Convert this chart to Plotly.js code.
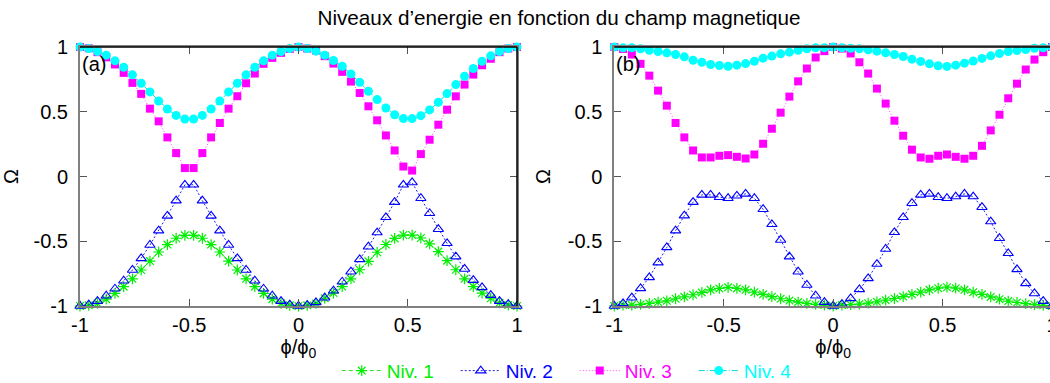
<!DOCTYPE html>
<html>
<head>
<meta charset="utf-8">
<script src="https://cdn.plot.ly/plotly-3.0.1.min.js"></script>
<style>
html,body{margin:0;padding:0;overflow:hidden;background:#fff;}
#chart{width:1060px;height:383px;}
</style>
</head>
<body>
<div id="chart"></div>
<script>
// phi / phi0 sample positions
const phi = [-1.00,-0.96,-0.92,-0.88,-0.84,-0.80,-0.76,-0.72,-0.68,-0.64,-0.60,-0.56,-0.52,-0.48,-0.44,-0.40,-0.36,-0.32,-0.28,-0.24,-0.20,-0.16,-0.12,-0.08,-0.04,0.00,
             0.04,0.08,0.12,0.16,0.20,0.24,0.28,0.32,0.36,0.40,0.44,0.48,0.52,0.56,0.60,0.64,0.68,0.72,0.76,0.80,0.84,0.88,0.92,0.96,1.00];

// Panel (a)
const a_niv1 = [-1.0,-0.995,-0.98,-0.947,-0.903,-0.851,-0.79,-0.722,-0.653,-0.583,-0.526,-0.477,-0.454,
                -0.454,-0.477,-0.526,-0.583,-0.653,-0.722,-0.79,-0.851,-0.903,-0.947,-0.98,-0.995,-1.0,
                -0.995,-0.98,-0.94,-0.9,-0.85,-0.79,-0.72,-0.655,-0.585,-0.525,-0.478,-0.452,-0.452,-0.475,-0.52,-0.58,-0.65,-0.72,-0.79,-0.85,-0.9,-0.94,-0.975,-0.993,-1.0];
const a_niv2 = [-1.0,-0.99,-0.962,-0.921,-0.867,-0.805,-0.722,-0.632,-0.529,-0.418,-0.304,-0.186,-0.064,
                -0.064,-0.186,-0.304,-0.418,-0.529,-0.632,-0.722,-0.805,-0.867,-0.921,-0.962,-0.99,-1.0,
                -0.993,-0.972,-0.936,-0.882,-0.813,-0.735,-0.64,-0.542,-0.433,-0.315,-0.198,-0.064,-0.046,-0.168,-0.284,-0.407,-0.516,-0.619,-0.714,-0.8,-0.856,-0.916,-0.962,-0.985,-1.0];
const a_niv3 = [1.0,0.99,0.96,0.92,0.865,0.80,0.723,0.638,0.524,0.426,0.302,0.181,0.065,
                0.065,0.181,0.302,0.413,0.524,0.62,0.72,0.795,0.87,0.916,0.955,0.985,1.0,
                0.988,0.973,0.929,0.872,0.808,0.733,0.645,0.542,0.434,0.317,0.201,0.077,0.046,0.173,0.284,0.4,0.516,0.619,0.71,0.787,0.859,0.909,0.96,0.988,1.0];
const a_niv4 = [1.0,0.988,0.965,0.937,0.893,0.844,0.785,0.72,0.653,0.583,0.521,0.472,0.444,
                0.444,0.472,0.521,0.583,0.653,0.72,0.785,0.844,0.893,0.937,0.965,0.988,1.0,
                0.988,0.968,0.937,0.896,0.851,0.792,0.728,0.658,0.594,0.529,0.477,0.447,0.447,0.47,0.514,0.573,0.64,0.71,0.774,0.834,0.89,0.932,0.965,0.988,1.0];

// Panel (b)
const b_niv1 = [-1.0,-0.993,-0.993,-0.988,-0.98,-0.97,-0.96,-0.944,-0.929,-0.913,-0.895,-0.875,-0.864,-0.856,-0.864,-0.875,-0.893,-0.91,-0.928,-0.944,-0.958,-0.97,-0.98,-0.988,-0.993,-1.0,
                -0.993,-0.99,-0.985,-0.978,-0.968,-0.955,-0.942,-0.927,-0.91,-0.893,-0.875,-0.862,-0.855,-0.862,-0.875,-0.893,-0.91,-0.93,-0.947,-0.962,-0.973,-0.982,-0.99,-0.995,-1.0];
const b_niv2 = [-1.0,-0.98,-0.936,-0.864,-0.779,-0.665,-0.547,-0.418,-0.302,-0.198,-0.142,-0.142,-0.16,-0.168,-0.149,-0.134,-0.168,-0.253,-0.369,-0.49,-0.619,-0.735,-0.838,-0.921,-0.97,-1.0,
                -0.985,-0.941,-0.872,-0.787,-0.676,-0.56,-0.431,-0.315,-0.206,-0.142,-0.134,-0.16,-0.168,-0.155,-0.134,-0.155,-0.237,-0.348,-0.477,-0.593,-0.717,-0.825,-0.903,-0.962,-1.0];
const b_niv3 = [1.0,0.985,0.942,0.87,0.779,0.663,0.547,0.413,0.302,0.201,0.147,0.147,0.16,0.165,0.152,0.139,0.17,0.253,0.369,0.493,0.617,0.735,0.834,0.919,0.968,1.0,
                0.988,0.95,0.882,0.795,0.679,0.563,0.431,0.315,0.207,0.147,0.137,0.16,0.17,0.152,0.137,0.16,0.237,0.356,0.477,0.604,0.717,0.826,0.903,0.96,1.0];
const b_niv4 = [1.0,0.994,0.994,0.986,0.975,0.965,0.955,0.942,0.924,0.898,0.882,0.865,0.857,0.851,0.86,0.872,0.89,0.914,0.93,0.947,0.96,0.975,0.986,0.994,0.994,1.0,
                0.994,0.99,0.986,0.978,0.968,0.955,0.942,0.927,0.906,0.888,0.87,0.855,0.85,0.86,0.875,0.891,0.912,0.932,0.95,0.965,0.973,0.98,0.99,0.994,1.0];

const seriesNames = ['Niv. 1','Niv. 2','Niv. 3','Niv. 4'];
const xTickVals = [-1,-0.5,0,0.5,1];
const xTickText = ['-1','-0.5','0','0.5','1'];
const yTickVals = [-1,-0.5,0,0.5,1];
const yTickText = ['-1','-0.5','0','0.5','1'];
const panelLabels = ['(a)','(b)'];

const styles = [
  {color:'#00ee00', line:'#22dd22', dash:'4px,3px', marker:{symbol:'asterisk-open', size:9, line:{color:'#00ee00', width:1.2}}},
  {color:'#0000ff', line:'#2222ee', dash:'2px,2px', marker:{symbol:'triangle-up-open', size:9, line:{color:'#0000ff', width:1.1}}},
  {color:'#ff00ff', line:'#ff44ff', dash:'1px,2px', marker:{symbol:'square', size:8, color:'#ff00ff', line:{width:0}}},
  {color:'#00ffff', line:'#00dddd', dash:'6px,2px,1px,2px', marker:{symbol:'circle', size:9, color:'#00ffff', line:{width:0}}}
];

const panels = [
  {xa:'x', ya:'y', data:[a_niv1,a_niv2,a_niv3,a_niv4]},
  {xa:'x2', ya:'y2', data:[b_niv1,b_niv2,b_niv3,b_niv4]}
];

const traces = [];
panels.forEach((p, pi) => {
  p.data.forEach((vals, si) => {
    const st = styles[si];
    const mk = Object.assign({}, st.marker);
    if (!mk.color) mk.color = st.color;
    traces.push({
      type:'scatter', mode:'lines+markers',
      x: phi, y: vals, xaxis:p.xa, yaxis:p.ya,
      name: '<span style="color:' + st.color + '">' + seriesNames[si] + '</span>',
      legendgroup: 'g' + si,
      showlegend: pi === 0,
      cliponaxis: false,
      line:{color:st.line, width:1, dash:st.dash},
      marker: mk
    });
  });
});

const FONT = 'Liberation Sans, Arial, Helvetica, sans-serif';
function xaxis(domain, anchor){
  return {domain:domain, anchor:anchor, range:[-1,1], tickvals:xTickVals, ticktext:xTickText,
    showgrid:false, zeroline:false, showline:true, linecolor:'#808080', linewidth:2, mirror:'ticks',
    ticks:'inside', ticklen:7, tickcolor:'#555', tickwidth:1, automargin:false,
    tickfont:{family:FONT, size:20, color:'#000'},
    title:{text:'\u03d5/\u03d5<sub>0</sub>', font:{family:FONT, size:20, color:'#000'}, standoff:0}};
}
function yaxis(anchor){
  return {domain:[0,1], anchor:anchor, range:[-1,1], tickvals:yTickVals, ticktext:yTickText,
    showgrid:false, zeroline:false, showline:true, linecolor:'#808080', linewidth:2, mirror:'ticks',
    ticks:'inside', ticklen:7, tickcolor:'#555', tickwidth:1, ticklabelstandoff:6, automargin:false,
    tickfont:{family:FONT, size:20, color:'#000'},
    title:{text:'\u03a9', font:{family:FONT, size:20, color:'#000'}, standoff:12}};
}

const frame = [];
['x','x2'].forEach((xa, i) => {
  const ya = i === 0 ? 'y' : 'y2';
  frame.push({type:'line', xref:xa+' domain', yref:ya+' domain', x0:0, x1:1, y0:1, y1:1, line:{color:'#000', width:1.5}});
  frame.push({type:'line', xref:xa+' domain', yref:ya+' domain', x0:1, x1:1, y0:0, y1:1, line:{color:'#000', width:1.5}});
});

const layout = {
  width:1060, height:383,
  margin:{l:80, r:8, t:47, b:77, autoexpand:false},
  paper_bgcolor:'#fff', plot_bgcolor:'#fff',
  font:{family:FONT, size:20, color:'#000'},
  title:{text:'Niveaux d\u2019energie en fonction du champ magnetique', font:{family:FONT, size:20.7, color:'#000'},
    x:559/1060, xanchor:'center', xref:'container', y:1-18/383, yanchor:'middle', yref:'container'},
  xaxis: xaxis([0, 437/972], 'y'),
  yaxis: yaxis('x'),
  xaxis2: xaxis([534.3/972, 1], 'y2'),
  yaxis2: yaxis('x2'),
  showlegend:true,
  legend:{orientation:'h', x:0.509, xanchor:'center', y:-0.25, yanchor:'middle',
    font:{family:FONT, size:19}, itemwidth:40, entrywidth:64, entrywidthmode:'pixels',
    bgcolor:'rgba(0,0,0,0)', traceorder:'normal'},
  shapes: frame,
  annotations: [
    {text:panelLabels[0], xref:'x domain', yref:'y domain', x:0, y:0.935, xanchor:'left', yanchor:'middle', showarrow:false, font:{family:FONT, size:20, color:'#000'}},
    {text:panelLabels[1], xref:'x2 domain', yref:'y2 domain', x:0, y:0.935, xanchor:'left', yanchor:'middle', showarrow:false, font:{family:FONT, size:20, color:'#000'}}
  ]
};

Plotly.newPlot('chart', traces, layout, {displayModeBar:false, staticPlot:true});
</script>
</body>
</html>
